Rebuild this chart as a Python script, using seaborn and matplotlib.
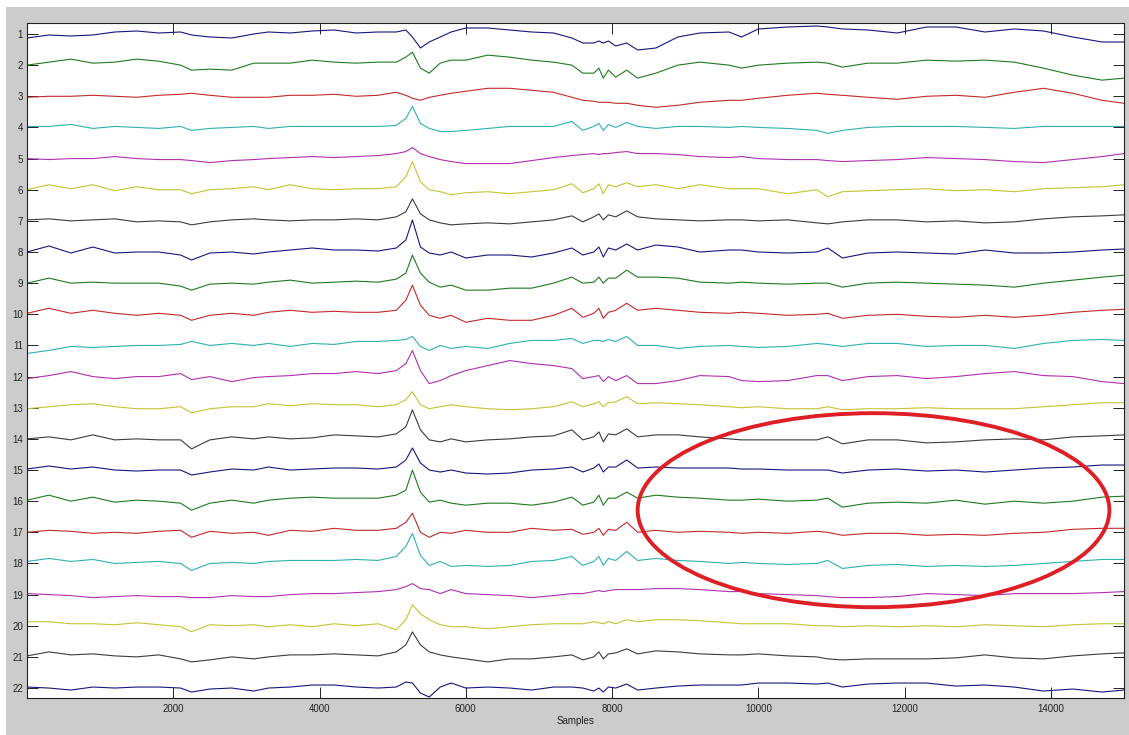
import numpy as np
import pandas as pd
import matplotlib
matplotlib.use("Agg")
import matplotlib.pyplot as plt
from matplotlib.patches import Ellipse, Rectangle
import seaborn as sns

# Sample positions at which each channel is given
samples = [0, 300, 600, 900, 1200, 1500, 1800, 2100, 2250, 2500, 2800, 3100, 3300,
           3600, 3900, 4200, 4500,
           4800, 5050, 5180, 5270, 5380, 5500, 5650, 5800, 6000, 6300, 6600, 6900,
           7200, 7450, 7600, 7750, 7820, 7880, 7950, 8050, 8200, 8350, 8600, 8900,
           9200, 9600,
           9770, 10000, 10400, 10800, 10950, 11150, 11500, 11900, 12300, 12700,
           13100, 13500, 13900, 14300, 14700, 15000]

# Channel amplitudes (positive = upward deflection)
ch01 = [-4, -1, -2, -1, 2, 3, 1, 2, -1, -3, -4, 0, 2, 1, 3, 4, 1,
        2, 2, 4, -3, -14, -8, -3, 2, 6, 6, 4, 2, 1, -4, -9, -9, -7, -9, -7, -12, -9, -16, -14, -3, 1, 2,
        -3, 5, 7, 8, 7, 5, 4, 1, 7, 7, 2, 5, 3, -3, -8, -8]
ch02 = [0, 3, 6, 2, 3, 6, 4, 0, -5, -4, -5, 2, 2, 2, 5, 3, 2,
        3, 3, 8, 13, -3, -8, 2, 5, 5, 10, 8, 5, 3, 0, -8, -8, -3, -13, -5, -12, -5, -13, -8, 0, 3, 0,
        -3, 0, 2, 3, 2, -2, 2, 2, 5, 4, 5, 3, -3, -10, -15, -13]
ch03 = [-1, 0, 0, 1, 0, -1, 1, 2, 3, 1, -1, -1, -1, 1, 1, 2, 0,
        1, 4, 1, -2, -4, -1, 1, 3, 5, 8, 8, 6, 4, -1, -4, -5, -6, -6, -6, -7, -7, -9, -11, -9, -6, -4,
        -4, -2, 1, 3, 2, 1, -1, -3, 0, 1, -1, 4, 8, 3, -4, -7]
ch04 = [1, 1, 3, -1, 1, 0, -1, 1, -3, -1, 0, 1, -1, 1, 1, 1, 1,
        1, 2, 9, 21, 4, -1, -4, -4, -3, -1, 1, 1, 1, 6, -3, 1, 4, -3, 3, 0, 5, 1, -1, 1, 1, 0,
        1, 0, -1, -3, -6, -3, 0, 1, 1, 1, 0, -1, 1, 1, 1, 1]
ch05 = [0, -1, 0, 0, 2, 0, -1, -1, -2, -4, -2, -1, 0, 1, 2, 1, 2,
        3, 5, 7, 11, 5, 2, -1, -3, -5, -5, -5, -2, 1, 3, 4, 5, 4, 5, 5, 6, 7, 5, 5, 4, 2, 1,
        2, 0, -1, -1, -2, -3, -2, -1, 1, 0, -1, -3, -4, -1, 2, 5]
ch06 = [0, 5, 1, 5, -1, 3, 0, 0, -4, 0, 1, 3, 0, 5, 1, 0, 1,
        1, 3, 13, 28, 8, 0, -2, -5, -3, -2, -4, -2, 0, 6, -3, 1, 6, -4, 5, 3, 7, 3, 5, 1, 5, 1,
        1, 1, -4, 0, -7, -2, -1, 0, 1, -1, 0, -2, 1, 2, 3, 5]
ch07 = [1, 2, 0, 1, 2, -1, 0, -1, -4, -1, 1, 2, 1, 0, 1, 1, 2,
        1, 4, 9, 22, 7, 1, -2, -4, -3, -2, -3, -1, 1, 5, -1, 4, 7, 1, 6, 4, 10, 4, 2, 1, 0, 1,
        1, 0, 1, -2, -3, -1, 1, 1, -1, 0, -2, -1, 2, 4, 5, 6]
ch08 = [0, 6, -1, 5, -1, 0, 0, -3, -8, -1, 0, -2, 0, 2, 4, 2, 2,
        1, 4, 12, 32, 5, -1, -3, 0, -6, -3, -3, -5, -1, 4, -3, 0, 5, -5, 4, 2, 8, 2, 7, 5, 0, 2,
        2, 0, -1, 0, 4, -6, -1, 0, -1, -2, 2, -1, -1, 0, 2, 3]
ch09 = [0, 5, 0, 1, 0, 0, 0, -3, -7, -1, 0, -1, 1, 3, 0, 1, 2,
        1, 4, 10, 28, 10, 1, -4, -2, -7, -7, -5, -5, 0, 6, 0, 1, 6, 0, 5, 5, 13, 6, 6, 5, 1, 0,
        1, 0, -1, 0, 0, -4, 0, 1, 0, -1, -2, -4, 0, 3, 6, 8]
ch10 = [1, 6, 1, 4, 1, -1, 1, -1, -6, -1, 1, -1, 2, 4, 2, 3, 2,
        2, 4, 14, 29, 9, -1, -4, -1, -8, -4, -6, -6, -1, 6, -3, 1, 6, -4, 2, 4, 11, 4, 6, 4, 2, 1,
        2, 1, -1, 0, 1, -4, -1, 0, -2, -3, -1, -3, -1, 2, 4, 5]
ch11 = [-8, -5, -1, -2, -1, 0, 0, 1, 4, 0, 2, 0, 2, -1, 2, 1, 4,
        4, 5, 6, 9, -1, -5, 0, -3, -1, -3, 2, 5, 5, 7, 2, 5, 5, 4, 6, 4, 9, 0, 0, -3, -1, 0,
        -1, -2, -1, 2, 1, -1, 2, 2, -1, 0, 0, -3, 2, 5, 6, 5]
ch12 = [-2, 1, 5, 0, -2, 0, 0, 3, -3, 0, -5, -1, 0, 1, 3, 3, 5,
        3, 6, 13, 26, 6, -7, -4, 1, 6, 11, 16, 13, 11, 8, -2, 0, 1, -5, 0, -4, 1, -7, -7, -4, 1, 0,
        -4, -5, -4, 1, 1, -4, 0, 1, -2, 0, 3, 5, 1, 0, -5, -7]
ch13 = [-1, 1, 3, 4, 1, -1, -1, 1, -5, -1, 1, 1, 4, 2, 4, 3, 3,
        1, 3, 8, 16, 3, -1, 1, 3, 1, -1, -2, -1, 1, 6, 1, 4, 6, 1, 5, 6, 11, 4, 5, 4, 3, 1,
        0, 1, -1, -1, 1, -2, -1, -1, 0, -1, -1, -1, 1, 3, 5, 5]
ch14 = [0, 2, -1, 4, -1, 0, -1, -1, -10, -1, 2, 0, 2, 0, 1, 4, 3,
        2, 5, 12, 29, 9, -1, -3, 0, -3, -1, 0, 2, 3, 9, -1, 2, 7, -3, 5, 4, 10, 2, 4, 4, 2, 0,
        -1, -1, -1, -1, 2, -5, -1, -1, -4, -3, -1, 0, -1, 2, 3, 4]
ch15 = [1, 4, 1, 3, 0, -1, 0, 0, -5, -2, 1, 0, 3, 0, 1, 2, 2,
        1, 3, 10, 22, 7, 0, -2, 0, -3, -4, -3, 0, 1, 3, -2, 2, 6, -2, 3, 3, 10, 2, 3, 2, 2, 2,
        1, 1, 0, 0, 0, -3, 0, 1, -1, 0, -2, 0, 2, 3, 5, 5]
ch16 = [1, 6, 0, 4, -1, 1, 0, -2, -9, -2, 1, -2, 1, 3, 4, 3, 3,
        3, 6, 11, 31, 9, -1, 1, -2, -4, -2, -2, -4, -1, 4, -4, -1, 6, -4, 3, 3, 9, 3, 6, 4, 3, 1,
        1, 2, 0, 1, 3, -6, -2, -1, -2, 1, -3, 0, -2, 0, 4, 5]
ch17 = [0, 2, 1, -1, 0, -1, 1, 2, -5, 1, -1, 0, -3, 2, 1, 4, 2,
        2, 4, 10, 19, 0, -5, 0, -1, 2, 0, 0, 4, 2, 3, -2, 0, 4, -3, 3, 2, 10, 0, 2, 0, 1, 0,
        -1, 0, -1, 1, 0, -3, -1, -1, -3, -2, -3, -1, 0, 3, 4, 4]
ch18 = [2, 5, 2, 4, 0, 1, 2, 0, -7, 0, 1, 0, 2, 3, 3, 3, 4,
        3, 7, 17, 30, 8, -2, 2, -3, -2, -3, -2, 2, 3, 7, -2, 2, 7, -2, 5, 3, 12, 3, 5, 3, 2, 0,
        1, 0, -1, 0, 3, -5, -2, -1, -3, -2, -3, -2, 0, 2, 4, 4]
ch19 = [1, 0, -1, -3, -2, -1, -2, -2, -3, -3, -1, -2, -2, 0, 1, 1, 2,
        3, 5, 8, 11, 6, 5, 1, 5, 1, 0, -1, -3, -1, 1, 1, 3, 4, 3, 4, 5, 5, 5, 6, 6, 5, 3,
        3, 1, 0, -1, -2, -3, -3, -2, 1, 0, -1, 1, 1, 1, 2, 3]
ch20 = [4, 4, 2, 2, 1, 3, 1, -1, -6, 1, 0, 1, -1, 1, -1, 2, 0,
        2, -4, 6, 21, 12, 6, 1, -1, -1, -3, -1, 1, 2, 2, 2, 4, 3, 2, 4, 2, 6, 4, 6, 6, 5, 3,
        2, 2, 2, 0, 0, -1, 0, -1, 0, -1, 1, 0, -1, 1, 2, 2]
ch21 = [1, 5, 2, 3, 1, 0, 2, -2, -5, -3, 0, -2, 0, 2, 2, 3, 2,
        1, 5, 12, 25, 12, 5, 2, 0, -2, -5, -2, -2, 0, 2, -3, 0, 5, -2, 3, 4, 8, 3, 6, 5, 3, 2,
        2, 3, 1, 0, -2, -3, -2, -2, -2, -1, 2, -1, -2, 1, 3, 4]
ch22 = [1, 0, -2, 1, 0, 1, 1, 0, -4, -1, 0, -3, 0, 1, 3, 3, 1,
        0, 1, 6, 5, -5, -9, 1, 5, 0, 1, 0, -2, 1, 1, 0, -3, 0, -4, 1, 0, 4, -2, 0, 2, 3, 3,
        3, 5, 5, 4, 5, 1, 4, 5, 5, 2, 3, 1, -3, -1, -4, -2]

channels = [ch01, ch02, ch03, ch04, ch05, ch06, ch07, ch08, ch09, ch10, ch11,
            ch12, ch13, ch14, ch15, ch16, ch17, ch18, ch19, ch20, ch21, ch22]
channel_labels = [str(i) for i in range(1, 23)]
x_ticks = [2000, 4000, 6000, 8000, 10000, 12000, 14000]

# Region of interest marked on the montage (center, width, height in data units)
roi_center = (11575, 16.29)
roi_width = 6450
roi_height = 6.23

# Classic MATLAB line colour order
line_colors = ["#16167e", "#1f7a1f", "#c22a2a", "#2fb1b1", "#b02fb0", "#c4c435", "#3c3c3c"]
palette = [line_colors[i % len(line_colors)] for i in range(len(channels))]

gain = 1 / 31.14  # amplitude units per channel spacing

frames = []
for label, vals in zip(channel_labels, channels):
    frames.append(pd.DataFrame({
        "sample": samples,
        "y": int(label) - np.asarray(vals, dtype=float) * gain,
        "channel": label,
    }))
df = pd.concat(frames, ignore_index=True)

sns.set_theme(style="white")
plt.rcParams["font.family"] = ["Liberation Sans", "DejaVu Sans"]

W, H = 1129, 735
fig = plt.figure(figsize=(W / 100, H / 100), dpi=100, facecolor="#cccccc")
# thin white margin along the top and left edges of the window
fig.patches.append(Rectangle((0, 1 - 7 / H), 1, 7 / H, transform=fig.transFigure,
                             facecolor="white", edgecolor="none", zorder=-1))
fig.patches.append(Rectangle((0, 0), 6 / W, 1, transform=fig.transFigure,
                             facecolor="white", edgecolor="none", zorder=-1))

ax = fig.add_axes([27 / W, (H - 698) / H, (1124 - 27) / W, (698 - 23) / H])
ax.set_facecolor("white")

sns.lineplot(data=df, x="sample", y="y", hue="channel", hue_order=channel_labels,
             palette=palette, estimator=None, sort=False, legend=False,
             linewidth=0.8, ax=ax)

ax.add_patch(Ellipse(roi_center, roi_width, roi_height, fill=False,
                     edgecolor="#df1f26", linewidth=2.8, zorder=5))

ax.set_xlim(0, 15000)
ax.set_ylim(22.32, 0.647)
ax.set_xticks(x_ticks)
ax.set_xticklabels([str(t) for t in x_ticks])
ax.set_yticks(range(1, 23))
ax.set_yticklabels(channel_labels)
ax.tick_params(axis="both", direction="in", length=7.9, width=0.7, colors="#222222",
               labelcolor="#222222", labelsize=7, top=True, right=True,
               bottom=True, left=True)
ax.tick_params(axis="y", pad=3)
ax.tick_params(axis="x", pad=4)
for sp in ax.spines.values():
    sp.set_color("#222222")
    sp.set_linewidth(0.8)
ax.set_xlabel("Samples", fontsize=7, labelpad=2, color="#222222")
ax.set_ylabel("")

fig.savefig("out.png", dpi=100, facecolor=fig.get_facecolor())
